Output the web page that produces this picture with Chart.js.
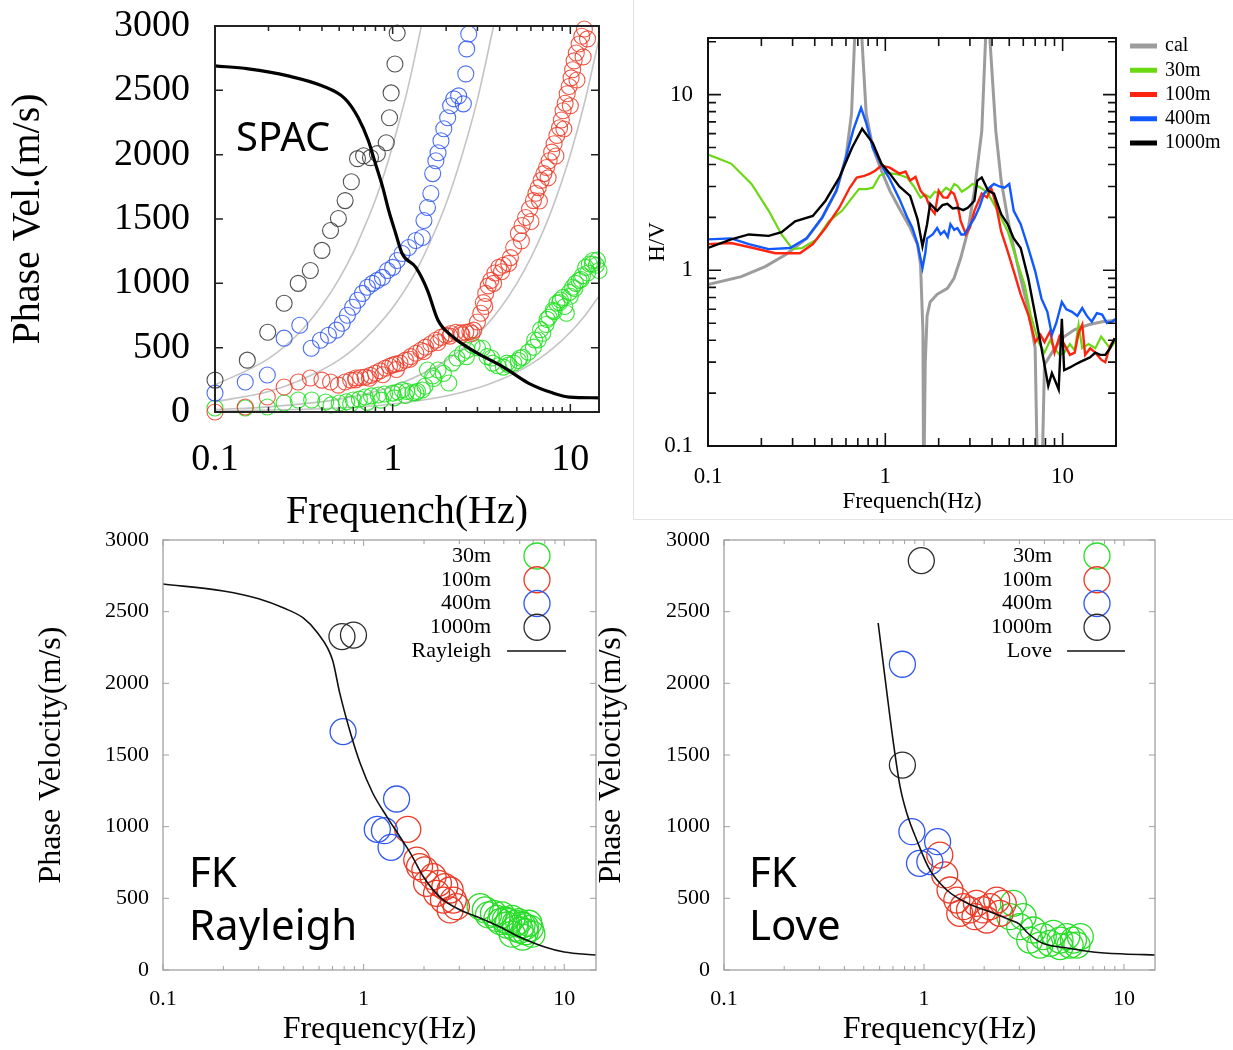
<!DOCTYPE html>
<html>
<head>
<meta charset="utf-8">
<script src="https://cdn.jsdelivr.net/npm/chart.js@4.4.0/dist/chart.umd.min.js"></script>
<style>
  body { margin: 0; background: #fff; width: 1233px; height: 1050px; position: relative; overflow: hidden; }
  canvas { position: absolute; }
  .tag { position: absolute; font-family: "Noto Sans", sans-serif; color: #000; line-height: 1; white-space: nowrap; }
  #hvFrame { position: absolute; left: 633px; top: -1px; width: 601px; height: 521px; box-sizing: border-box;
             border-left: 1px solid #e2e2e2; border-bottom: 1px solid #e2e2e2; }
</style>
</head>
<body>
<div id="hvFrame"></div>
<canvas id="cSpac" width="620" height="540" style="left:0;top:0"></canvas>
<canvas id="cHv" width="599" height="519" style="left:634px;top:0"></canvas>
<canvas id="cFkR" width="620" height="530" style="left:0;top:520px"></canvas>
<canvas id="cFkL" width="643" height="530" style="left:590px;top:520px"></canvas>
<div class="tag" style="left:236px;top:116px;font-size:40px">SPAC</div>
<div class="tag" style="left:189px;top:850px;font-size:42px">FK</div>
<div class="tag" style="left:189px;top:903px;font-size:42px">Rayleigh</div>
<div class="tag" style="left:749px;top:850px;font-size:42px">FK</div>
<div class="tag" style="left:749px;top:903px;font-size:42px">Love</div>
<script>
// ---- tick labels ----
const freqTicks = [0.1, 1, 10];
const hvTicks = [0.1, 1, 10];
const velTicks = [0, 500, 1000, 1500, 2000, 2500, 3000];

// ---- SPAC (top left) ----
const spac1000F = [0.1, 0.152, 0.198, 0.245, 0.294, 0.344, 0.4, 0.447, 0.495, 0.54, 0.585, 0.634, 0.686, 0.75, 0.82, 0.92, 0.96, 0.98, 1.03, 1.06];
const spac1000V = [248, 403, 620, 845, 1000, 1100, 1256, 1411, 1504, 1643, 1790, 1969, 1992, 1977, 2008, 2093, 2287, 2480, 2705, 2946];
const spac400F = [0.1, 0.148, 0.197, 0.245, 0.3, 0.348, 0.392, 0.435, 0.482, 0.52, 0.556, 0.595, 0.634, 0.676, 0.721, 0.77, 0.82, 0.876, 0.935, 1.0, 1.06, 1.13, 1.23, 1.35, 1.47, 1.5, 1.57, 1.64, 1.68, 1.75, 1.8, 1.87, 1.94, 2.04, 2.12, 2.21, 2.35, 2.5, 2.58, 2.61, 2.68];
const spac400V = [147, 233, 287, 574, 674, 496, 558, 597, 636, 690, 752, 814, 868, 922, 969, 1000, 1023, 1046, 1100, 1124, 1178, 1232, 1279, 1333, 1356, 1488, 1589, 1698, 1853, 1953, 2015, 2108, 2202, 2287, 2380, 2434, 2457, 2395, 2628, 2822, 2938];
const spac100F = [0.1, 0.148, 0.197, 0.245, 0.294, 0.344, 0.4, 0.447, 0.495, 0.54, 0.58, 0.62, 0.66, 0.7, 0.75, 0.8, 0.85, 0.91, 0.96, 1.0, 1.04, 1.1, 1.18, 1.26, 1.35, 1.44, 1.53, 1.64, 1.75, 1.87, 1.99, 2.13, 2.27, 2.42, 2.58, 2.72, 2.86, 3.0, 3.13, 3.24, 3.34, 3.45, 3.57, 3.76, 3.96, 4.2, 4.5, 4.8, 5.1, 5.35, 5.6, 5.9, 6.2, 6.4, 6.6, 6.85, 7.1, 7.35, 7.6, 7.85, 8.1, 8.4, 8.7, 8.9, 9.1, 9.35, 9.6, 9.85, 10.1, 10.3, 10.5, 10.8, 11.2, 11.6, 12.0];
const spac100V = [0, 39, 116, 194, 233, 264, 248, 233, 209, 233, 248, 264, 268, 271, 285, 302, 320, 341, 355, 365, 372, 380, 403, 430, 457, 480, 504, 530, 558, 580, 597, 610, 620, 615, 620, 625, 636, 700, 767, 850, 922, 980, 1023, 1080, 1124, 1140, 1155, 1279, 1388, 1450, 1512, 1580, 1643, 1700, 1744, 1800, 1853, 1900, 1953, 2020, 2085, 2150, 2209, 2270, 2341, 2400, 2473, 2530, 2597, 2660, 2729, 2790, 2860, 2920, 2977];
// second run of 100m circles that widens the band above 3 Hz
const spac100bF = [0.62, 0.74, 0.88, 1.05, 1.25, 1.5, 1.8, 2.1, 2.45, 2.8, 3.3, 3.7, 4.1, 4.6, 5.3, 6.0, 6.7, 7.5, 8.3, 9.2, 10.0, 10.9, 11.8, 12.5];
const spac100bV = [250, 262, 290, 330, 410, 470, 540, 590, 600, 610, 820, 1000, 1090, 1200, 1330, 1480, 1640, 1820, 1990, 2200, 2380, 2580, 2760, 2900];
const spac30F = [0.1, 0.148, 0.197, 0.245, 0.294, 0.35, 0.42, 0.5, 0.55, 0.6, 0.65, 0.7, 0.76, 0.83, 0.9, 1.0, 1.07, 1.13, 1.2, 1.3, 1.38, 1.47, 1.57, 1.68, 1.8, 1.93, 2.07, 2.17, 2.3, 2.47, 2.62, 2.8, 3.0, 3.2, 3.4, 3.65, 3.9, 4.2, 4.5, 4.8, 5.1, 5.4, 5.8, 6.2, 6.6, 7.0, 7.3, 7.6, 8.0, 8.4, 8.8, 9.1, 9.5, 9.9, 10.3, 10.7, 11.2, 11.7, 12.2, 12.8, 13.4, 14.0, 14.5];
const spac30V = [31, 31, 39, 70, 93, 93, 78, 70, 80, 93, 100, 116, 125, 132, 140, 147, 155, 171, 160, 150, 160, 171, 326, 280, 326, 300, 225, 380, 420, 457, 480, 519, 500, 496, 430, 380, 360, 349, 365, 380, 400, 426, 465, 504, 560, 612, 680, 736, 790, 845, 870, 891, 767, 930, 969, 1000, 1023, 1060, 1124, 1150, 1178, 1140, 1100];
// second run of 30m circles
const spac30bF = [0.45, 0.58, 0.72, 0.86, 1.02, 1.18, 1.35, 1.52, 1.7, 2.6, 3.6, 4.4, 5.2, 6.3, 6.8, 7.4, 8.1, 8.7, 9.3, 10.0, 10.6, 11.5, 12.5, 13.3, 14.2];
const spac30bV = [55, 62, 75, 92, 110, 128, 150, 200, 260, 430, 420, 380, 420, 560, 640, 720, 780, 850, 820, 900, 960, 1030, 1080, 1150, 1180];
const spacCurveF = [0.1, 0.154, 0.258, 0.4, 0.54, 0.64, 0.73, 0.8, 0.88, 0.95, 1.04, 1.13, 1.35, 1.57, 1.8, 2.2, 3.0, 4.2, 5.8, 8.0, 9.9, 14.5];
const spacCurveV = [2690, 2667, 2612, 2535, 2434, 2287, 2108, 1930, 1744, 1566, 1388, 1232, 1124, 946, 713, 581, 457, 349, 225, 147, 116, 110];
const limAF = [0.1, 0.2, 0.3, 0.4, 0.5, 0.6, 0.7, 0.8, 0.9, 1.0, 1.1, 1.2, 1.3, 1.45];
const limAV = [210, 415, 620, 830, 1035, 1240, 1450, 1650, 1860, 2070, 2280, 2480, 2690, 3000];
const limBF = [0.1, 0.2, 0.3, 0.5, 0.7, 1, 1.3, 1.6, 2, 2.5, 3, 3.7];
const limBV = [80, 160, 245, 405, 570, 810, 1050, 1300, 1620, 2030, 2430, 3000];
const limCF = [0.1, 0.2, 0.5, 1, 2, 3, 4, 5, 6, 7, 8, 10, 12, 14.5];
const limCV = [20, 40, 100, 200, 400, 600, 800, 1000, 1200, 1400, 1600, 2000, 2400, 2900];
const limDF = [0.1, 0.5, 1, 2, 3, 4, 5, 6, 7, 8, 10, 12, 14.5];
const limDV = [6, 31, 62, 124, 186, 248, 310, 372, 434, 496, 620, 744, 900];

// ---- H/V (top right) ----
const hvCalF = [0.1, 0.154, 0.21, 0.275, 0.36, 0.44, 0.53, 0.6, 0.645, 0.67, 0.705, 0.74, 0.78, 0.85, 0.95, 1.06, 1.2, 1.38, 1.52, 1.58, 1.63, 1.645, 1.68, 1.72, 1.79, 1.96, 2.24, 2.44, 2.66, 2.92, 3.18, 3.5, 3.67, 3.78, 3.9, 4.2, 4.5, 4.9, 5.3, 5.8, 6.4, 7.0, 7.25, 7.6, 7.9, 8.7, 9.9, 11.7, 14, 16.7, 20];
const hvCalV = [0.83, 0.92, 1.05, 1.23, 1.52, 1.99, 2.84, 4.4, 7.8, 19.8, 60, 19.8, 7.8, 5.0, 3.7, 2.84, 2.25, 1.75, 1.4, 1.08, 0.45, 0.05, 0.3, 0.55, 0.66, 0.73, 0.79, 0.9, 1.17, 1.67, 2.84, 6.2, 19.8, 60, 19.8, 6.2, 3.24, 1.98, 1.34, 0.9, 0.6, 0.36, 0.05, 0.05, 0.29, 0.34, 0.41, 0.46, 0.49, 0.51, 0.52];
const hv30F = [0.1, 0.135, 0.176, 0.22, 0.26, 0.3, 0.34, 0.41, 0.48, 0.57, 0.65, 0.71, 0.78, 0.85, 0.93, 1.02, 1.1, 1.2, 1.33, 1.45, 1.58, 1.68, 1.79, 1.9, 2.05, 2.2, 2.33, 2.45, 2.55, 2.7, 2.92, 3.1, 3.3, 3.55, 3.8, 4.3, 4.9, 5.6, 6.1, 6.6, 7.3, 7.9, 8.5, 9.0, 9.6, 10.2, 11.0, 11.7, 12.3, 12.9, 14.0, 15.3, 16.5, 17.4, 18.5, 19.7];
const hv30V = [4.56, 4.05, 3.1, 2.18, 1.6, 1.32, 1.34, 1.5, 1.9, 2.18, 2.59, 2.9, 2.9, 2.95, 3.46, 3.6, 3.55, 3.5, 3.37, 3.0, 2.59, 2.7, 2.59, 2.8, 2.73, 2.95, 2.84, 3.1, 3.03, 2.8, 2.95, 3.1, 3.03, 2.9, 2.73, 2.18, 1.67, 1.08, 0.83, 0.56, 0.39, 0.34, 0.4, 0.36, 0.33, 0.34, 0.38, 0.35, 0.49, 0.36, 0.38, 0.36, 0.42, 0.39, 0.36, 0.39];
const hv100F = [0.1, 0.135, 0.18, 0.24, 0.33, 0.39, 0.46, 0.55, 0.63, 0.69, 0.76, 0.82, 0.88, 0.95, 1.06, 1.2, 1.3, 1.38, 1.48, 1.58, 1.7, 1.79, 1.9, 2.0, 2.12, 2.24, 2.35, 2.44, 2.55, 2.66, 2.85, 3.0, 3.18, 3.5, 3.75, 3.95, 4.2, 4.5, 4.9, 5.3, 5.8, 6.4, 7.0, 7.5, 7.9, 8.5, 9.0, 9.6, 10.2, 11.0, 11.7, 12.3, 12.9, 13.4, 14.3, 15.3, 16.5, 17.4, 18.5, 19.7];
const hv100V = [1.41, 1.43, 1.34, 1.25, 1.25, 1.41, 1.74, 2.27, 2.95, 3.37, 3.45, 3.55, 3.7, 3.95, 3.84, 3.55, 3.65, 3.24, 3.4, 2.84, 2.6, 2.27, 2.1, 2.84, 2.6, 2.59, 2.8, 2.73, 2.4, 1.91, 1.6, 1.75, 2.18, 2.73, 2.6, 2.95, 2.39, 1.67, 1.28, 0.99, 0.73, 0.56, 0.39, 0.43, 0.39, 0.45, 0.34, 0.42, 0.38, 0.33, 0.34, 0.44, 0.49, 0.33, 0.36, 0.34, 0.31, 0.3, 0.37, 0.41];
const hv400F = [0.1, 0.135, 0.17, 0.22, 0.29, 0.36, 0.44, 0.53, 0.6, 0.66, 0.73, 0.78, 0.85, 0.97, 1.06, 1.2, 1.33, 1.42, 1.52, 1.62, 1.68, 1.72, 1.85, 1.96, 2.05, 2.15, 2.25, 2.33, 2.45, 2.55, 2.68, 2.79, 3.0, 3.18, 3.4, 3.6, 3.85, 4.1, 4.4, 4.7, 5.0, 5.3, 5.8, 6.4, 7.0, 7.6, 8.2, 8.7, 9.2, 9.9, 10.5, 11.3, 12.1, 12.9, 13.7, 14.6, 15.6, 16.7, 17.8, 19.0, 20.0];
const hv400V = [1.5, 1.52, 1.41, 1.32, 1.34, 1.52, 1.99, 2.84, 4.4, 6.3, 8.4, 6.9, 5.0, 3.84, 3.3, 2.55, 2.0, 1.75, 1.41, 1.03, 1.25, 1.52, 1.6, 1.74, 1.6, 1.67, 1.55, 1.83, 1.7, 1.74, 1.6, 1.6, 1.8, 1.98, 2.3, 2.73, 2.95, 3.1, 3.0, 2.95, 3.1, 2.18, 1.83, 1.34, 0.99, 0.69, 0.58, 0.43, 0.5, 0.66, 0.6, 0.58, 0.55, 0.61, 0.55, 0.51, 0.57, 0.56, 0.5, 0.51, 0.53];
const hv1000F = [0.1, 0.135, 0.17, 0.22, 0.26, 0.31, 0.39, 0.46, 0.55, 0.65, 0.74, 0.85, 0.95, 1.06, 1.2, 1.38, 1.52, 1.62, 1.72, 1.79, 1.96, 2.1, 2.24, 2.4, 2.55, 2.75, 2.92, 3.18, 3.3, 3.5, 3.8, 4.1, 4.5, 4.9, 5.3, 5.8, 6.4, 7.0, 7.6, 8.3, 8.7, 9.0, 9.5, 9.9, 10.2, 11.0, 11.7, 12.5, 13.4, 14.3, 15.3, 16.3, 17.4, 18.5, 19.7];
const hv1000V = [1.34, 1.5, 1.6, 1.57, 1.65, 1.9, 2.04, 2.49, 3.37, 5.0, 6.4, 5.3, 4.05, 3.55, 3.0, 2.65, 1.95, 1.37, 1.83, 2.39, 2.18, 2.35, 2.39, 2.25, 2.27, 2.2, 2.27, 2.49, 3.24, 3.37, 2.84, 2.73, 2.09, 1.83, 1.52, 1.34, 0.9, 0.56, 0.36, 0.22, 0.26, 0.24, 0.21, 0.53, 0.27, 0.28, 0.29, 0.3, 0.31, 0.32, 0.34, 0.33, 0.33, 0.36, 0.41];

// ---- FK Rayleigh (bottom left) ----
const fkR30F = [3.81, 4.04, 4.19, 4.44, 4.62, 4.89, 5.08, 5.28, 5.49, 5.7, 5.92, 6.16, 6.4, 6.66, 6.77, 6.4, 6.03, 5.7, 5.18, 4.8, 6.2, 6.9, 5.5];
const fkR30V = [442, 419, 384, 395, 360, 384, 349, 337, 360, 326, 337, 314, 302, 326, 291, 267, 279, 291, 314, 337, 230, 250, 250];
const fkR100F = [1.66, 1.84, 2.02, 2.22, 2.06, 2.36, 2.54, 2.31, 2.7, 2.5, 2.8, 2.9, 2.7, 1.9];
const fkR100V = [981, 767, 698, 651, 605, 605, 581, 535, 558, 488, 488, 442, 419, 721];
const fkR400F = [0.79, 1.46, 1.17, 1.27, 1.37];
const fkR400V = [1663, 1193, 981, 972, 856];
const fkR1000F = [0.78, 0.89];
const fkR1000V = [2326, 2337];
const rayleighF = [0.1, 0.2, 0.3, 0.4, 0.5, 0.59, 0.7, 0.76, 0.86, 0.96, 1.11, 1.31, 1.52, 1.71, 1.99, 2.4, 3.03, 3.7, 4.8, 6.0, 8.0, 10, 14.4];
const rayleighV = [2693, 2644, 2590, 2525, 2456, 2351, 2163, 1933, 1653, 1444, 1235, 1067, 928, 816, 649, 509, 419, 370, 300, 230, 160, 125, 105];

// ---- FK Love (bottom right) ----
const fkL30F = [2.8, 2.69, 3.13, 3.01, 3.52, 3.95, 4.44, 4.79, 5.18, 5.59, 6.05, 5.82, 4.27, 3.38, 3.8, 4.79, 5.38];
const fkL30V = [465, 372, 372, 302, 279, 233, 256, 209, 233, 209, 233, 174, 186, 209, 174, 163, 174];
const fkL100F = [1.2, 1.27, 1.35, 1.46, 1.57, 1.69, 1.83, 1.98, 2.14, 2.31, 2.4, 1.51, 1.8, 2.06, 2.49];
const fkL100V = [802, 663, 558, 488, 442, 419, 465, 419, 442, 488, 395, 395, 372, 349, 465];
const fkL400F = [0.78, 0.87, 1.17, 0.95, 1.07];
const fkL400V = [2133, 965, 895, 744, 756];
const fkL1000F = [0.97, 0.78];
const fkL1000V = [2856, 1430];
const loveF = [0.59, 0.65, 0.7, 0.76, 0.82, 0.92, 1.07, 1.3, 1.64, 2.22, 2.7, 3.0, 3.3, 3.9, 5.2, 7.0, 10, 14.3];
const loveV = [2421, 1953, 1605, 1277, 1095, 907, 698, 558, 467, 398, 349, 320, 258, 188, 153, 126, 112, 105];

const serif = '"Liberation Serif", "Times New Roman", serif';
const GREEN = 'rgb(40,222,40)', RED = 'rgb(236,58,38)', BLUE = 'rgb(48,88,236)', BLACK = 'rgb(45,45,45)';

function pts(fs, vs) {
  return fs.map((f, i) => ({ x: f, y: vs[i] }));
}

function circles(label, fs, vs, color, r, bw) {
  return {
    label, data: pts(fs, vs), showLine: false, clip: false,
    pointStyle: 'circle', pointRadius: r, pointHoverRadius: r, pointBorderWidth: bw,
    pointBorderColor: color, pointBackgroundColor: 'rgba(0,0,0,0)',
    borderColor: color, backgroundColor: 'rgba(0,0,0,0)'
  };
}

function curve(label, fs, vs, color, w, smooth) {
  return {
    label, data: pts(fs, vs), showLine: true, pointRadius: 0, pointHoverRadius: 0,
    borderColor: color, borderWidth: w, fill: false,
    tension: smooth ? 0.4 : 0, cubicInterpolationMode: smooth ? 'monotone' : 'default'
  };
}

function minorValues(scale) {
  const out = [];
  const lo = Math.floor(Math.log10(scale.min)), hi = Math.ceil(Math.log10(scale.max));
  for (let e = lo; e < hi; e++) {
    for (let d = 2; d <= 9; d++) {
      const v = d * Math.pow(10, e);
      if (v > scale.min && v < scale.max) out.push(v);
    }
  }
  return out;
}

// label overhang must not move the plot box
function noOverhang(s) {
  s.paddingTop = 0; s.paddingBottom = 0; s.paddingLeft = 0; s.paddingRight = 0;
}

// box round the plot with inward tick marks on all four sides
const framePlugin = {
  id: 'frame',
  afterDatasetsDraw(chart, args, o) {
    const { ctx, chartArea: a } = chart;
    const xs = chart.scales.x, ys = chart.scales.y;
    ctx.save();
    ctx.strokeStyle = o.color;
    ctx.lineWidth = o.width;
    ctx.strokeRect(a.left, a.top, a.right - a.left, a.bottom - a.top);
    ctx.lineWidth = o.tickWidth;
    ctx.beginPath();
    const mark = (scale, v, len) => {
      const p = scale.getPixelForValue(v);
      if (scale.isHorizontal()) {
        if (p < a.left - 0.5 || p > a.right + 0.5) return;
        ctx.moveTo(p, a.bottom); ctx.lineTo(p, a.bottom - len);
        ctx.moveTo(p, a.top); ctx.lineTo(p, a.top + len);
      } else {
        if (p < a.top - 0.5 || p > a.bottom + 0.5) return;
        ctx.moveTo(a.left, p); ctx.lineTo(a.left + len, p);
        ctx.moveTo(a.right, p); ctx.lineTo(a.right - len, p);
      }
    };
    xs.ticks.forEach(t => mark(xs, t.value, o.major));
    ys.ticks.forEach(t => mark(ys, t.value, o.major));
    if (o.xMinor) minorValues(xs).forEach(v => mark(xs, v, o.minor));
    if (o.yMinor) minorValues(ys).forEach(v => mark(ys, v, o.minor));
    ctx.stroke();
    ctx.restore();
  }
};

// key drawn from the datasets themselves
const keyPlugin = {
  id: 'key',
  afterDraw(chart, args, o) {
    const ctx = chart.ctx;
    ctx.save();
    ctx.font = o.font;
    ctx.textBaseline = 'middle';
    o.items.forEach((idx, i) => {
      const ds = chart.data.datasets[idx];
      const y = o.y0 + i * o.dy;
      ctx.fillStyle = '#000';
      ctx.textAlign = o.align;
      ctx.fillText(ds.label, o.textX, y);
      if (ds.showLine) {
        ctx.strokeStyle = ds.borderColor;
        ctx.lineWidth = o.lineWidth || ds.borderWidth;
        ctx.beginPath();
        ctx.moveTo(o.lineX0, y); ctx.lineTo(o.lineX1, y);
        ctx.stroke();
      } else {
        ctx.strokeStyle = ds.pointBorderColor;
        ctx.lineWidth = ds.pointBorderWidth;
        ctx.beginPath();
        ctx.arc(o.markX, y, ds.pointRadius, 0, Math.PI * 2);
        ctx.stroke();
      }
    });
    ctx.restore();
  }
};

function xAxis(o) {
  return {
    type: 'logarithmic', position: 'bottom', min: o.min, max: o.max,
    grid: { display: false, drawTicks: false }, border: { display: false },
    afterBuildTicks: s => { s.ticks = freqTicks.map(v => ({ value: v })); },
    afterFit: s => { s.height = o.h; noOverhang(s); },
    ticks: { autoSkip: false, maxRotation: 0, padding: o.pad, color: '#000',
             font: { family: serif, size: o.size }, callback: v => String(v) },
    title: { display: true, text: o.title, color: '#000',
             font: { family: serif, size: o.tsize, lineHeight: 1 }, padding: { top: 0, bottom: o.tpad } }
  };
}

function yAxis(o) {
  const ax = {
    position: 'left', min: o.min, max: o.max,
    grid: { display: false, drawTicks: false }, border: { display: false },
    afterBuildTicks: s => { s.ticks = o.values.map(v => ({ value: v })); },
    afterFit: s => { s.width = o.w; noOverhang(s); },
    ticks: { autoSkip: false, padding: o.pad, color: '#000',
             font: { family: serif, size: o.size }, callback: v => String(v) },
    title: { display: true, text: o.title, color: '#000',
             font: { family: serif, size: o.tsize, lineHeight: 1 }, padding: { top: o.tpad, bottom: 0 } }
  };
  ax.type = o.log ? 'logarithmic' : 'linear';
  return ax;
}

function baseOptions(pad, scales, frame, key) {
  return {
    responsive: false, animation: false, devicePixelRatio: 1,
    layout: { padding: pad },
    scales,
    plugins: { legend: { display: false }, tooltip: { enabled: false }, frame, key }
  };
}

Chart.defaults.font.family = serif;

// top left: SPAC
new Chart(document.getElementById('cSpac'), {
  type: 'scatter',
  data: {
    datasets: [
      curve('SPAC', spacCurveF, spacCurveV, '#000', 3.2, true),
      circles('1000m', spac1000F, spac1000V, 'rgba(50,50,50,0.85)', 8, 1.1),
      circles('400m', spac400F, spac400V, 'rgba(45,85,240,0.85)', 8, 1.1),
      circles('100m', spac100F, spac100V, 'rgba(236,58,38,0.85)', 8, 1.1),
      circles('100m b', spac100bF, spac100bV, 'rgba(236,58,38,0.85)', 8, 1.1),
      circles('30m', spac30F, spac30V, 'rgba(35,225,35,0.9)', 8, 1.1),
      circles('30m b', spac30bF, spac30bV, 'rgba(35,225,35,0.9)', 8, 1.1),
      curve('lim1', limAF, limAV, '#c4c4c4', 1.6, true),
      curve('lim2', limBF, limBV, '#c4c4c4', 1.6, true),
      curve('lim3', limCF, limCV, '#c4c4c4', 1.6, true),
      curve('lim4', limDF, limDV, '#c4c4c4', 1.6, true)
    ]
  },
  options: baseOptions(
    { left: 0, top: 26, right: 21, bottom: 0 },
    {
      x: xAxis({ min: 0.1, max: 14.5, h: 128, pad: 25, size: 38, title: 'Frequench(Hz)', tsize: 40, tpad: 8 }),
      y: yAxis({ min: 0, max: 3000, values: velTicks, w: 215, pad: 25, size: 38, title: 'Phase Vel.(m/s)', tsize: 40, tpad: 8 })
    },
    { color: '#222', width: 2, tickWidth: 1.5, major: 8, minor: 5, xMinor: true, yMinor: false },
    { items: [] }
  ),
  plugins: [framePlugin, keyPlugin]
});

// top right: H/V
new Chart(document.getElementById('cHv'), {
  type: 'scatter',
  data: {
    datasets: [
      curve('1000m', hv1000F, hv1000V, '#000', 2.4, false),
      curve('400m', hv400F, hv400V, '#1058ff', 2.4, false),
      curve('100m', hv100F, hv100V, '#ff2410', 2.4, false),
      curve('30m', hv30F, hv30V, '#6ad812', 2.2, false),
      curve('cal', hvCalF, hvCalV, '#9c9c9c', 3, false)
    ]
  },
  options: baseOptions(
    { left: 0, top: 38, right: 117, bottom: 0 },
    {
      x: xAxis({ min: 0.1, max: 20, h: 73, pad: 17, size: 23, title: 'Frequench(Hz)', tsize: 23, tpad: 5.5 }),
      y: yAxis({ log: true, min: 0.1, max: 21, values: hvTicks, w: 74, pad: 15, size: 23, title: 'H/V', tsize: 23, tpad: 12.5 })
    },
    { color: '#111', width: 2, tickWidth: 1.6, major: 13, minor: 8, xMinor: true, yMinor: true },
    { items: [4, 3, 2, 1, 0], font: '20px ' + serif, align: 'left', textX: 531, y0: 46, dy: 24.25,
      lineX0: 496, lineX1: 523, lineWidth: 5 }
  ),
  plugins: [framePlugin, keyPlugin]
});

function fkChart(id, curveLabel, lineF, lineV, s30, s100, s400, s1000, yw, ytpad, padRight, xmax, key) {
  return new Chart(document.getElementById(id), {
    type: 'scatter',
    data: {
      datasets: [
        curve(curveLabel, lineF, lineV, '#111', 1.6, true),
        circles('1000m', s1000[0], s1000[1], BLACK, 13, 1.3),
        circles('400m', s400[0], s400[1], BLUE, 13, 1.3),
        circles('100m', s100[0], s100[1], RED, 13, 1.3),
        circles('30m', s30[0], s30[1], GREEN, 13, 1.3)
      ]
    },
    options: baseOptions(
      { left: 0, top: 20, right: padRight, bottom: 0 },
      {
        x: xAxis({ min: 0.1, max: xmax, h: 80, pad: 16, size: 22, title: 'Frequency(Hz)', tsize: 32, tpad: 4 }),
        y: yAxis({ min: 0, max: 3000, values: velTicks, w: yw, pad: 14, size: 22, title: 'Phase Velocity(m/s)', tsize: 32, tpad: ytpad })
      },
      { color: '#a0a0a0', width: 1.3, tickWidth: 1, major: 6, minor: 4, xMinor: true, yMinor: false },
      key
    ),
    plugins: [framePlugin, keyPlugin]
  });
}

fkChart('cFkR', 'Rayleigh', rayleighF, rayleighV,
  [fkR30F, fkR30V], [fkR100F, fkR100V], [fkR400F, fkR400V], [fkR1000F, fkR1000V],
  163, 36, 24, 14.4,
  { items: [4, 3, 2, 1, 0], font: '22px ' + serif, align: 'right', textX: 491, markX: 537, y0: 36, dy: 23.75,
    lineX0: 507, lineX1: 566, lineWidth: 1.6 });

fkChart('cFkL', 'Love', loveF, loveV,
  [fkL30F, fkL30V], [fkL100F, fkL100V], [fkL400F, fkL400V], [fkL1000F, fkL1000V],
  134, 6, 78, 14.3,
  { items: [4, 3, 2, 1, 0], font: '22px ' + serif, align: 'right', textX: 462, markX: 507, y0: 36, dy: 23.75,
    lineX0: 477, lineX1: 535, lineWidth: 1.6 });
</script>
</body>
</html>
